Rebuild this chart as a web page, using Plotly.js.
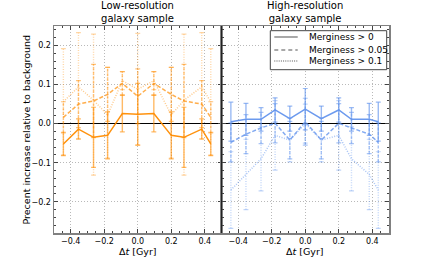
<!DOCTYPE html>
<html>
<head>
<meta charset="utf-8">
<script src="https://cdn.plot.ly/plotly-3.0.1.min.js"></script>
<style>html,body{margin:0;padding:0;background:#fff;}#chart{width:432px;height:259px;}</style>
</head>
<body>
<div id="chart"></div>
<script>
// ---- data ----
const dt = [-0.444, -0.354, -0.264, -0.180, -0.092, 0.0, 0.096, 0.200, 0.276, 0.382, 0.436];

// Low-resolution sample
const lowM0      = [-0.052, -0.014, -0.035, -0.030, 0.026, 0.024, 0.026, -0.030, -0.035, -0.014, -0.052];
const lowM0Plus  = [0.030, 0.026, 0.077, 0.060, 0.047, 0.079, 0.047, 0.060, 0.077, 0.026, 0.030];
const lowM0Minus = [0.030, 0.026, 0.077, 0.060, 0.047, 0.079, 0.047, 0.060, 0.077, 0.026, 0.030];
const lowM05      = [0.016, 0.050, 0.058, 0.075, 0.103, 0.070, 0.103, 0.075, 0.058, 0.050, 0.016];
const lowM05Plus  = [0.040, 0.060, 0.094, 0.069, 0.030, 0.070, 0.030, 0.069, 0.094, 0.060, 0.040];
const lowM05Minus = [0.040, 0.060, 0.094, 0.069, 0.030, 0.070, 0.030, 0.069, 0.094, 0.060, 0.040];
const lowM1      = [0.056, 0.094, 0.060, 0.022, 0.110, 0.088, 0.110, 0.022, 0.060, 0.094, 0.056];
const lowM1Plus  = [0.136, 0.139, 0.169, 0.122, 0.023, 0.143, 0.023, 0.122, 0.169, 0.139, 0.136];
const lowM1Minus = [0.136, 0.132, 0.192, 0.110, 0.023, 0.143, 0.023, 0.110, 0.192, 0.132, 0.136];

// High-resolution sample
const highM0      = [0.005, 0.011, 0.011, 0.035, 0.013, 0.037, 0.013, 0.035, 0.011, 0.011, 0.005];
const highM0Plus  = [0.050, 0.041, 0.030, 0.031, 0.032, 0.053, 0.032, 0.031, 0.030, 0.041, 0.050];
const highM0Minus = [0.050, 0.041, 0.030, 0.031, 0.032, 0.053, 0.032, 0.031, 0.030, 0.041, 0.050];
const highM05      = [-0.048, -0.027, -0.011, 0.001, -0.042, 0.005, -0.042, 0.001, -0.011, -0.027, -0.048];
const highM05Plus  = [0.050, 0.050, 0.040, 0.050, 0.048, 0.060, 0.048, 0.050, 0.040, 0.050, 0.050];
const highM05Minus = [0.050, 0.050, 0.040, 0.050, 0.048, 0.060, 0.048, 0.050, 0.040, 0.050, 0.050];
const highM1      = [-0.170, -0.130, -0.090, -0.030, -0.042, 0.000, -0.042, -0.030, -0.090, -0.130, -0.170];
const highM1Plus  = [0.098, 0.090, 0.082, 0.089, 0.056, 0.050, 0.056, 0.089, 0.082, 0.090, 0.098];
const highM1Minus = [0.098, 0.090, 0.082, 0.089, 0.056, 0.050, 0.056, 0.089, 0.082, 0.090, 0.098];

const legendNames = ['Merginess > 0', 'Merginess > 0.05', 'Merginess > 0.1'];
const xTicks = [-0.4, -0.2, 0.0, 0.2, 0.4];
const yTicks = [-0.2, -0.1, 0.0, 0.1, 0.2];

// ---- build traces ----
const ORANGE = [255, 140, 0];
const BLUE = [100, 149, 237];
function rgba(c, a) { return 'rgba(' + c[0] + ',' + c[1] + ',' + c[2] + ',' + a + ')'; }

function series(xa, ya, x, y, plus, minus, col, lineAlpha, errAlpha, dash, errDash) {
  const ex = [], ey = [];
  for (let i = 0; i < x.length; i++) {
    ex.push(x[i], x[i], null);
    ey.push(y[i] - minus[i], y[i] + plus[i], null);
  }
  return [
    {
      x: ex, y: ey, xaxis: xa, yaxis: ya, type: 'scatter', mode: 'lines+markers',
      line: {color: rgba(col, errAlpha), width: 1.4, dash: errDash},
      marker: {symbol: 'line-ew', size: 3.5, line: {width: 1.2, color: rgba(col, errAlpha)}},
      showlegend: false, hoverinfo: 'skip'
    },
    {
      x: x, y: y, xaxis: xa, yaxis: ya, type: 'scatter', mode: 'lines',
      line: {color: rgba(col, lineAlpha), width: 1.5, dash: dash},
      showlegend: false
    }
  ];
}

let traces = [];
traces = traces.concat(series('x', 'y', dt, lowM1, lowM1Plus, lowM1Minus, ORANGE, 0.45, 0.35, '1px,1.5px', '1px,1.5px'));
traces = traces.concat(series('x', 'y', dt, lowM05, lowM05Plus, lowM05Minus, ORANGE, 0.7, 0.5, '4px,2px', '3px,1.5px'));
traces = traces.concat(series('x', 'y', dt, lowM0, lowM0Plus, lowM0Minus, ORANGE, 0.95, 0.6, 'solid', 'solid'));
traces = traces.concat(series('x2', 'y2', dt, highM1, highM1Plus, highM1Minus, BLUE, 0.55, 0.4, '1px,1.5px', '1px,1.5px'));
traces = traces.concat(series('x2', 'y2', dt, highM05, highM05Plus, highM05Minus, BLUE, 0.8, 0.55, '4px,2px', '3px,1.5px'));
traces = traces.concat(series('x2', 'y2', dt, highM0, highM0Plus, highM0Minus, BLUE, 0.95, 0.65, 'solid', 'solid'));

const tickFont = {family: 'DejaVu Sans', size: 8, color: '#000'};
function xAxis(domain, anchor) {
  return {
    domain: domain, anchor: anchor, range: [-0.5, 0.5], tickvals: xTicks, tickformat: '.1f',
    ticks: 'inside', ticklen: 4, tickwidth: 1, tickcolor: '#444',
    minor: {dtick: 0.05, tick0: 0, ticks: 'inside', ticklen: 2, tickcolor: '#444', showgrid: false},
    showline: true, linecolor: '#808080', linewidth: 1.5, mirror: 'ticks',
    showgrid: true, gridcolor: '#a8a8a8', griddash: '1px,2px', gridwidth: 0.8,
    zeroline: false, tickfont: tickFont, fixedrange: true
  };
}
function yAxis(anchor, labels) {
  return {
    anchor: anchor, range: [-0.28, 0.25], tickvals: yTicks, tickformat: '.1f', showticklabels: labels,
    ticks: 'inside', ticklen: 4, tickwidth: 1, tickcolor: '#444',
    minor: {dtick: 0.02, tick0: 0, ticks: 'inside', ticklen: 2, tickcolor: '#444', showgrid: false},
    showline: true, linecolor: '#808080', linewidth: 1.5, mirror: 'ticks',
    showgrid: true, gridcolor: '#a8a8a8', griddash: '1px,2px', gridwidth: 0.8,
    zeroline: true, zerolinecolor: '#000', zerolinewidth: 1.3, tickfont: tickFont, fixedrange: true
  };
}

const titleFont = {family: 'DejaVu Sans', size: 10, color: '#000'};
const labFont = {family: 'DejaVu Sans', size: 9.5, color: '#000'};
const legFont = {family: 'DejaVu Sans', size: 9, color: '#000'};

// hand-drawn legend (box, sample lines, labels)
const legBox = {x0: 0.6457, x1: 0.9931, y0: 0.7889, y1: 0.9773};
const legRows = [0.9469, 0.8840, 0.8310];
const legDash = ['solid', '4px,3px', '1px,1.2px'];
const shapes = [
  {type: 'line', xref: 'paper', yref: 'paper', x0: 0.5, x1: 0.5, y0: 0, y1: 1,
   line: {color: '#222', width: 1}, layer: 'above'},
  {type: 'rect', xref: 'paper', yref: 'paper', x0: legBox.x0, x1: legBox.x1, y0: legBox.y0, y1: legBox.y1,
   line: {color: '#444', width: 1}, fillcolor: '#fff', layer: 'above'}
];
const annotations = [
  {text: 'Low-resolution<br>galaxy sample', xref: 'paper', yref: 'paper', x: 0.25, y: 1,
   xanchor: 'center', yanchor: 'bottom', yshift: 0, showarrow: false, font: titleFont},
  {text: 'High-resolution<br>galaxy sample', xref: 'paper', yref: 'paper', x: 0.75, y: 1,
   xanchor: 'center', yanchor: 'bottom', yshift: 0, showarrow: false, font: titleFont},
  {text: 'Δ<i>t</i> [Gyr]', xref: 'paper', yref: 'paper', x: 0.25, y: 0,
   xanchor: 'center', yanchor: 'top', yshift: -11, showarrow: false, font: labFont},
  {text: 'Δ<i>t</i> [Gyr]', xref: 'paper', yref: 'paper', x: 0.75, y: 0,
   xanchor: 'center', yanchor: 'top', yshift: -11, showarrow: false, font: labFont},
  {text: 'Precent increase relative to background', xref: 'paper', yref: 'paper',
   x: -0.0806, y: 0.5, xanchor: 'center', yanchor: 'middle', textangle: -90,
   showarrow: false, font: labFont}
];
for (let k = 0; k < legendNames.length; k++) {
  shapes.push({type: 'line', xref: 'paper', yref: 'paper', x0: 0.6576, x1: 0.7275,
    y0: legRows[k], y1: legRows[k], line: {color: '#8c8c8c', width: 1.5, dash: legDash[k]}, layer: 'above'});
  annotations.push({text: legendNames[k], xref: 'paper', yref: 'paper', x: 0.7543, y: legRows[k],
    xanchor: 'left', yanchor: 'middle', showarrow: false, font: legFont});
}

const layout = {
  width: 432, height: 259,
  margin: {l: 54, r: 43, t: 26, b: 26, pad: 0},
  paper_bgcolor: '#fff', plot_bgcolor: '#fff',
  font: {family: 'DejaVu Sans', size: 9, color: '#000'},
  xaxis: xAxis([0, 0.5], 'y'),
  xaxis2: xAxis([0.5, 1], 'y2'),
  yaxis: yAxis('x', true),
  yaxis2: Object.assign(yAxis('x2', false), {matches: 'y'}),
  showlegend: false,
  shapes: shapes,
  annotations: annotations
};

Plotly.newPlot('chart', traces, layout, {staticPlot: true, displayModeBar: false});
</script>
</body>
</html>
